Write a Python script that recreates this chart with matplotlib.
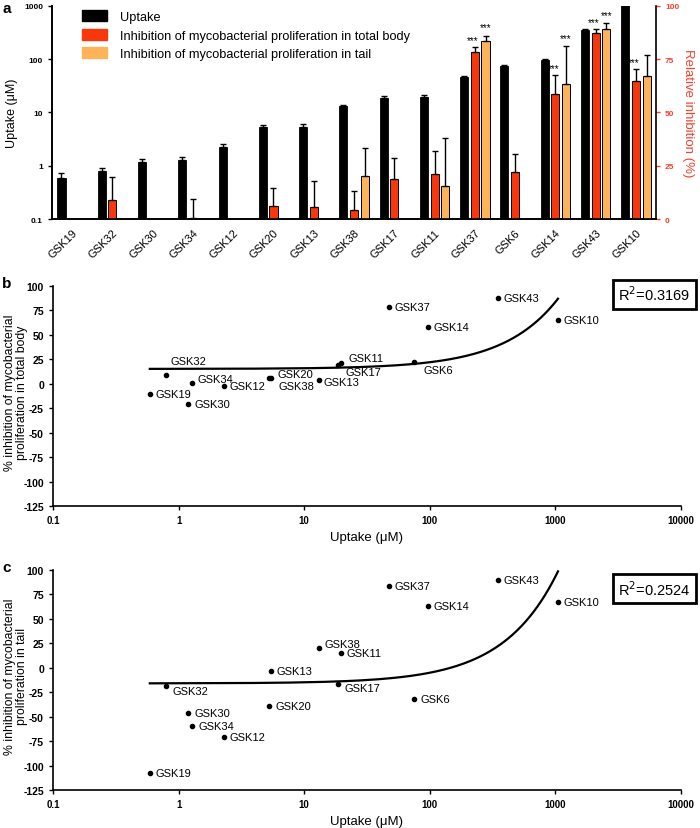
import numpy as np
import matplotlib
matplotlib.use('Agg')
import matplotlib.pyplot as plt
from matplotlib.patches import Patch

plt.rcParams['font.family'] = ['Liberation Sans', 'DejaVu Sans']

nan = np.nan

compounds = ['GSK19', 'GSK32', 'GSK30', 'GSK34', 'GSK12', 'GSK20', 'GSK13', 'GSK38',
             'GSK17', 'GSK11', 'GSK37', 'GSK6', 'GSK14', 'GSK43', 'GSK10']
uptake = [0.59, 0.79, 1.19, 1.28, 2.28, 5.25, 5.4, 13.1, 18.7, 19.5, 47, 75, 96, 347, 1050]
uptake_sd = [0.14, 0.11, 0.16, 0.17, 0.32, 0.55, 0.7, 0.9, 1.3, 1.5, 1.2, 4, 4, 16, 0]
body_inh = [-10.4, 9.0, -20.6, 0.5, -2.3, 6.0, 5.5, 4.0, 19.0, 21.0, 78.5, 22.0, 58.5, 87.5, 65.0]
body_sd = [nan, 10.7, nan, 9.0, nan, 8.6, 12.5, 9.0, 9.6, 11.0, 2.3, 8.3, 9.0, 1.5, 5.4]
tail_inh = [-108, -18.6, -46.5, -59.2, -71, -39.1, -3, 20.0, -16.9, 15.3, 83.4, -31.9, 63.6, 89.3, 66.9]
tail_sd = [nan, nan, nan, nan, nan, nan, nan, 13.5, nan, 22.6, 2.7, nan, 17.7, 2.8, 10.2]
body_sig = ['GSK37', 'GSK14', 'GSK43', 'GSK10']
tail_sig = ['GSK37', 'GSK14', 'GSK43']
r2_body = '0.3169'
r2_tail = '0.2524'

RED = '#f8380c'
ORANGE = '#fdb35a'
AXRED = '#f4402c'

# label offsets (pixels) for the scatter panels
b_offsets = {'GSK32': (5, 14), 'GSK34': (5, 4), 'GSK20': (8, 4), 'GSK13': (53, -4),
             'GSK38': (-40, -6), 'GSK17': (7, -7), 'GSK11': (8, 5), 'GSK6': (9, -8)}
c_offsets = {'GSK32': (7, -5), 'GSK38': (6, 4), 'GSK17': (6, -4)}

fig = plt.figure(figsize=(7, 8.29), dpi=100)

# ---------------- panel a ----------------
ax1 = fig.add_axes([0.0743, 0.7346, 0.8629, 0.257])
ax2 = ax1.twinx()
x = np.arange(len(compounds))
w = 0.2
off = 0.265

body = np.array(body_inh)
tail = np.array(tail_inh)
body_bar = np.where(body > 0, body, nan)
tail_bar = np.where(tail > 0, tail, nan)

ax1.bar(x - off, uptake, w, color='black', edgecolor='black', linewidth=0.6,
        yerr=[np.zeros(len(x)), uptake_sd], capsize=2, error_kw={'elinewidth': 1, 'capthick': 1})
ax1.set_yscale('log')
ax1.set_ylim(0.1, 1000)
ax1.set_xlim(-0.5, len(compounds) - 0.5)

ax2.bar(x, body_bar, w, color=RED, edgecolor='black', linewidth=0.7,
        yerr=[np.zeros(len(x)), body_sd], capsize=2, error_kw={'elinewidth': 1, 'capthick': 1})
ax2.bar(x + off, tail_bar, w, color=ORANGE, edgecolor='black', linewidth=0.7,
        yerr=[np.zeros(len(x)), tail_sd], capsize=2, error_kw={'elinewidth': 1, 'capthick': 1})
ax2.set_ylim(0, 100)

for name in body_sig:
    i = compounds.index(name)
    ax2.text(i - 0.05, body_inh[i] + body_sd[i] + 1, '***', ha='center', va='bottom', fontsize=7)
for name in tail_sig:
    i = compounds.index(name)
    ax2.text(i + off, tail_inh[i] + tail_sd[i] + 1.5, '***', ha='center', va='bottom', fontsize=7)

ax1.set_xticks(x)
ax1.set_xticklabels(compounds, rotation=45, ha='right', rotation_mode='anchor', fontsize=8)
ax1.tick_params(axis='x', length=0, pad=6)
ax1.set_yticks([0.1, 1, 10, 100, 1000])
ax1.set_yticklabels(['0.1', '1', '10', '100', '1000'], fontsize=6, fontweight='bold')
ax1.yaxis.set_minor_locator(matplotlib.ticker.NullLocator())
ax1.tick_params(axis='y', length=3, width=1)
ax1.set_ylabel('Uptake (\u03bcM)', fontsize=9)
ax1.yaxis.set_label_coords(-0.056, 0.5)

ax2.set_yticks([0, 25, 50, 75, 100])
ax2.set_yticklabels(['0', '25', '50', '75', '100'], fontsize=6, fontweight='bold', color=AXRED)
ax2.tick_params(axis='y', length=3, width=1, color=AXRED)
ax2.set_ylabel('Relative inhibition (%)', fontsize=9.5, color=AXRED, rotation=270, va='center')
ax2.yaxis.set_label_coords(1.053, 0.5)

for a in (ax1, ax2):
    a.spines['top'].set_visible(False)
    for s in a.spines.values():
        s.set_linewidth(1.2)
ax1.spines['right'].set_visible(False)

handles = [Patch(color='black'), Patch(color=RED), Patch(color=ORANGE)]
labels = ['Uptake', 'Inhibition of mycobacterial proliferation in total body',
          'Inhibition of mycobacterial proliferation in tail']
ax2.legend(handles, labels, loc='upper left', bbox_to_anchor=(0.03, 1.035), frameon=False,
           fontsize=9.2, handlelength=2.0, handleheight=0.95, labelspacing=0.45, handletextpad=1.0)

fig.text(0.003, 0.998, 'a', fontsize=11, fontweight='bold', va='top')


# ---------------- panels b and c ----------------
def scatter_panel(rect, yvals, offsets, ylabel, r2, letter, box_y):
    ax = fig.add_axes(rect)
    ax.set_xscale('log')
    ax.plot(uptake, yvals, 'o', color='black', markersize=3)
    for i, name in enumerate(compounds):
        dx, dy = offsets.get(name, (6, 0))
        ax.annotate(name, (uptake[i], yvals[i]), xytext=(dx, dy), textcoords='offset pixels',
                    ha='left', va='center', fontsize=8)
    # linear regression of inhibition on uptake
    slope, icpt = np.polyfit(uptake, yvals, 1)
    xs = np.linspace(min(uptake), max(uptake), 300)
    ax.plot(xs, icpt + slope * xs, color='black', linewidth=1.6)

    ax.set_xlim(0.1, 10000)
    ax.set_ylim(-125, 100)
    ax.set_xticks([0.1, 1, 10, 100, 1000, 10000])
    ax.set_xticklabels(['0.1', '1', '10', '100', '1000', '10000'], fontsize=7, fontweight='bold')
    ax.xaxis.set_minor_locator(matplotlib.ticker.NullLocator())
    ax.set_yticks(np.arange(-125, 101, 25))
    ax.set_yticklabels([str(v) for v in np.arange(-125, 101, 25)], fontsize=7.5, fontweight='bold')
    ax.tick_params(length=3, width=1)
    ax.spines['top'].set_visible(False)
    ax.spines['right'].set_visible(False)
    ax.spines['left'].set_linewidth(1.2)
    ax.spines['bottom'].set_linewidth(1.2)
    ax.set_xlabel('Uptake (\u03bcM)', fontsize=9.5)
    ax.set_ylabel(ylabel, fontsize=8.8, linespacing=1.0, va='center')
    ax.yaxis.set_label_coords(-0.059, 0.52)

    fig.text(0.935, box_y, 'R$^2$=' + r2, fontsize=10.5, ha='center', va='center',
             bbox=dict(boxstyle='square,pad=0.35', facecolor='white', edgecolor='black', linewidth=2))
    fig.text(0.003, rect[1] + rect[3] + 0.012, letter, fontsize=11, fontweight='bold', va='top')
    return ax


scatter_panel([0.0757, 0.3884, 0.897, 0.2654], body_inh, b_offsets,
              '% inhibition of mycobacterial\nproliferation in total body', r2_body, 'b', 0.644)
scatter_panel([0.0757, 0.0458, 0.897, 0.2654], tail_inh, c_offsets,
              '% inhibition of mycobacterial\nproliferation in tail', r2_tail, 'c', 0.289)

fig.savefig('out.png', dpi=100)
